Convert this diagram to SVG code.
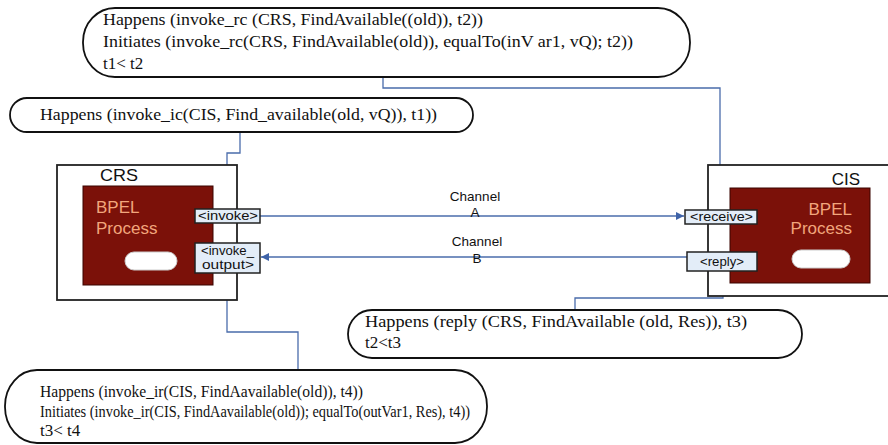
<svg xmlns="http://www.w3.org/2000/svg" width="888" height="445" viewBox="0 0 888 445">
<style>
.note{fill:#fff;stroke:#111;stroke-width:1.8}
.nt{font-family:"Liberation Serif","Times New Roman",serif;font-size:17px;fill:#111}
.outer{fill:#fff;stroke:#222;stroke-width:1.8}
.proc{fill:#7b1109;stroke:#3a0500;stroke-width:1}
.bp{font-family:"Liberation Sans",Arial,sans-serif;font-size:17px;fill:#f2a67c}
.lbl{font-family:"Liberation Sans",Arial,sans-serif;font-size:17px;fill:#111}
.pill{fill:#fff;stroke:#ccc;stroke-width:1}
.port{fill:#e3edf8;stroke:#222;stroke-width:1.5}
.pt{font-family:"Liberation Sans",Arial,sans-serif;font-size:12px;fill:#111}
.ch{font-family:"Liberation Sans",Arial,sans-serif;font-size:13.5px;fill:#111;text-anchor:middle}
.con{fill:none;stroke:#4a6cab;stroke-width:1.3}
</style>
<defs>
<marker id="arr" viewBox="0 0 10 10" refX="10" refY="5" markerWidth="8" markerHeight="8" markerUnits="userSpaceOnUse" orient="auto">
<path d="M0,0 L10,5 L0,10 z" fill="#3f63a8"/>
</marker>
</defs>

<g id="connectors">
<path class="con" d="M383,77 V88 H720 V209" marker-end="url(#arr)"/>
<path class="con" d="M240,132 V153 H227 V208" marker-end="url(#arr)"/>
<path class="con" d="M260,216 H684" marker-end="url(#arr)"/>
<path class="con" d="M687,257 H261" marker-end="url(#arr)"/>
<path class="con" d="M575,310 V298 H723 V272" marker-end="url(#arr)"/>
<path class="con" d="M298,370 V332 H227 V274" marker-end="url(#arr)"/>
<text class="ch" x="475" y="201">Channel</text>
<text class="ch" x="475" y="217">A</text>
<text class="ch" x="477" y="246">Channel</text>
<text class="ch" x="477" y="263">B</text>
</g>

<g id="note-top">
<rect class="note" x="83" y="8" width="607" height="69" rx="32" ry="34"/>
<text class="nt" x="103" y="25" textLength="380" lengthAdjust="spacingAndGlyphs">Happens (invoke_rc (CRS, FindAvailable((old)), t2))</text>
<text class="nt" x="103" y="47" textLength="530" lengthAdjust="spacingAndGlyphs">Initiates (invoke_rc(CRS, FindAvailable(old)), equalTo(inV ar1, vQ); t2))</text>
<text class="nt" x="103" y="69">t1&lt; t2</text>
</g>

<g id="note-ic">
<rect class="note" x="10" y="98" width="463" height="34" rx="17" ry="17"/>
<text class="nt" x="40" y="120" textLength="397" lengthAdjust="spacingAndGlyphs">Happens (invoke_ic(CIS, Find_available(old, vQ)), t1))</text>
</g>

<g id="CRS">
<rect class="outer" x="57" y="165" width="180" height="135"/>
<text class="lbl" x="100" y="181" textLength="38" lengthAdjust="spacingAndGlyphs">CRS</text>
<rect class="proc" x="83" y="186" width="130" height="99"/>
<text class="bp" x="96" y="213">BPEL</text>
<text class="bp" x="96" y="234">Process</text>
<rect class="pill" x="125" y="252" width="52" height="18" rx="9"/>
</g>

<g id="invoke">
<rect class="port" x="195" y="209" width="65" height="14"/>
<text class="pt" x="198" y="220" textLength="60" lengthAdjust="spacingAndGlyphs">&lt;invoke&gt;</text>
</g>

<g id="invoke_output">
<rect class="port" x="195" y="243" width="65" height="30"/>
<text class="pt" x="201" y="255" textLength="53" lengthAdjust="spacingAndGlyphs">&lt;invoke_</text>
<text class="pt" x="202" y="269" textLength="52" lengthAdjust="spacingAndGlyphs">output&gt;</text>
</g>

<g id="CIS">
<rect class="outer" x="708" y="165" width="182" height="131"/>
<text class="lbl" x="860" y="185" text-anchor="end">CIS</text>
<rect class="proc" x="730" y="188" width="140" height="95"/>
<text class="bp" x="852" y="215" text-anchor="end">BPEL</text>
<text class="bp" x="852" y="234" text-anchor="end">Process</text>
<rect class="pill" x="792" y="250" width="58" height="18" rx="9"/>
</g>

<g id="receive">
<rect class="port" x="685" y="210" width="72" height="14"/>
<text class="pt" x="690" y="221" textLength="63" lengthAdjust="spacingAndGlyphs">&lt;receive&gt;</text>
</g>

<g id="reply">
<rect class="port" x="687" y="252" width="70" height="19"/>
<text class="pt" x="700" y="266" textLength="44" lengthAdjust="spacingAndGlyphs">&lt;reply&gt;</text>
</g>

<g id="note-reply">
<rect class="note" x="348" y="310" width="454" height="48" rx="24" ry="24"/>
<text class="nt" x="365" y="327" textLength="382" lengthAdjust="spacingAndGlyphs">Happens (reply (CRS, FindAvailable (old, Res)), t3)</text>
<text class="nt" x="365" y="348">t2&lt;t3</text>
</g>

<g id="note-ir">
<rect class="note" x="5" y="370" width="482" height="73" rx="32" ry="36"/>
<text class="nt" x="40" y="397" textLength="323" lengthAdjust="spacingAndGlyphs">Happens (invoke_ir(CIS, FindAavailable(old)), t4))</text>
<text class="nt" x="40" y="417" textLength="430" lengthAdjust="spacingAndGlyphs">Initiates (invoke_ir(CIS, FindAavailable(old)); equalTo(outVar1, Res), t4))</text>
<text class="nt" x="40" y="436">t3&lt; t4</text>
</g>
</svg>
